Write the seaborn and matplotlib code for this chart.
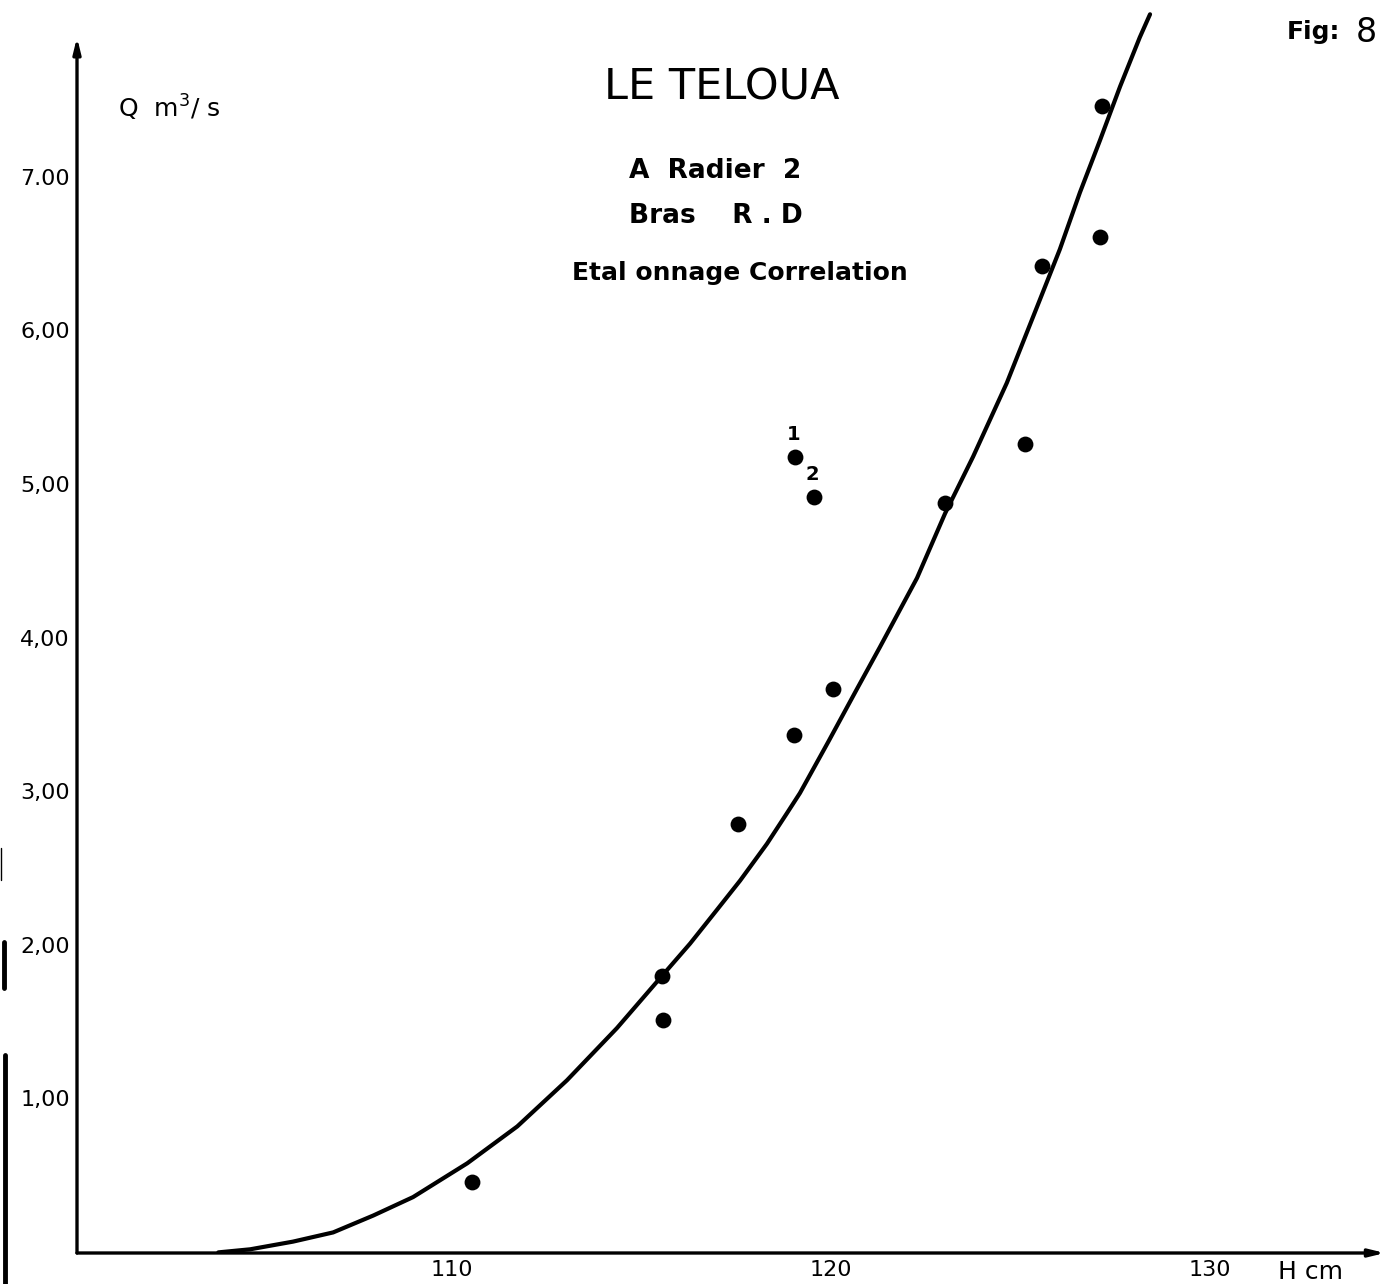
import matplotlib
matplotlib.use("Agg")
import matplotlib.pyplot as plt
from matplotlib.lines import Line2D
import seaborn as sns
import pandas as pd

# ---- data ----
obs_h = [110.53, 115.54, 115.57, 117.55, 119.02, 120.05, 119.05, 119.55,
         123.01, 125.12, 125.57, 127.10, 127.15]
obs_q = [0.51, 1.85, 1.56, 2.84, 3.42, 3.72, 5.23, 4.97,
         4.93, 5.31, 6.47, 6.66, 7.51]
obs_label = ["", "", "", "", "", "", "1", "2", "", "", "", "", ""]

curve_h = [103.83, 104.67, 105.80, 106.86, 107.92, 108.97, 110.40, 111.72,
           113.03, 114.35, 115.54, 116.28, 116.99, 117.60, 118.31, 118.84,
           119.18, 119.92, 120.69, 121.29, 122.27, 123.01, 123.75, 124.64,
           125.51, 126.04, 126.57, 127.10, 127.63, 128.15, 128.42]
curve_q = [0.05, 0.07, 0.12, 0.18, 0.29, 0.41, 0.63, 0.87,
           1.17, 1.51, 1.85, 2.06, 2.28, 2.47, 2.71, 2.91,
           3.04, 3.37, 3.72, 3.99, 4.44, 4.86, 5.23, 5.71,
           6.25, 6.58, 6.95, 7.29, 7.64, 7.96, 8.11]

x_ticks = [110, 120, 130]
x_tick_labels = ["110", "120", "130"]
y_ticks = [1, 2, 3, 4, 5, 6, 7]
y_tick_labels = ["1,00", "2,00", "3,00", "4,00", "5,00", "6,00", "7.00"]

title = "LE TELOUA"
sub1 = "A  Radier  2"
sub2 = "Bras    R . D"
sub3 = "Etal onnage Correlation"

# ---- figure ----
sns.set_style("white")
plt.rcParams["font.family"] = ["DejaVu Sans"]
plt.rcParams["text.color"] = "black"

W, H = 1391, 1284
fig = plt.figure(figsize=(W / 100, H / 100), dpi=100)
ax_left, ax_right, ax_bottom, ax_top = 77, 1391, 1253, 0
ax = fig.add_axes([ax_left / W, 1 - ax_bottom / H,
                   (ax_right - ax_left) / W, (ax_bottom - ax_top) / H])

xmin, xmax = 100.1, 134.78
ymin, ymax = 0.046, 8.203
ax.set_xlim(xmin, xmax)
ax.set_ylim(ymin, ymax)

curve_df = pd.DataFrame({"H": curve_h, "Q": curve_q})
obs_df = pd.DataFrame({"H": obs_h, "Q": obs_q, "lab": obs_label})

sns.lineplot(data=curve_df, x="H", y="Q", ax=ax, color="black", lw=3.0,
             sort=False, estimator=None)
ax.lines[-1].set_solid_joinstyle("round")
ax.lines[-1].set_solid_capstyle("round")
sns.scatterplot(data=obs_df, x="H", y="Q", ax=ax, color="black", s=130,
                edgecolor="black", linewidth=0, zorder=5)
for h, q, lab in zip(obs_h, obs_q, obs_label):
    if lab:
        ax.annotate(lab, (h, q), xytext=(-1, 9), textcoords="offset points",
                    ha="center", va="bottom", fontsize=14, fontweight="bold")

for s in ax.spines.values():
    s.set_visible(False)

# axes with arrows
ax.annotate("", xy=(xmin, 7.96), xytext=(xmin, ymin),
            arrowprops=dict(arrowstyle="-|>,head_length=0.9,head_width=0.22",
                            lw=2.4, color="black", shrinkA=0, shrinkB=0),
            annotation_clip=False)
ax.annotate("", xy=(134.62, ymin), xytext=(xmin, ymin),
            arrowprops=dict(arrowstyle="-|>,head_length=0.9,head_width=0.22",
                            lw=2.4, color="black", shrinkA=0, shrinkB=0),
            annotation_clip=False)

ax.set_xticks(x_ticks)
ax.set_xticklabels(x_tick_labels)
ax.set_yticks(y_ticks)
ax.set_yticklabels(y_tick_labels)
ax.tick_params(axis="x", direction="in", length=14, width=2.0, pad=5,
               labelsize=16, colors="black")
ax.tick_params(axis="y", direction="in", length=14, width=2.0, pad=5,
               labelsize=16, colors="black")
for lab in ax.get_yticklabels():
    lab.set_verticalalignment("baseline")
ax.set_xlabel("")
ax.set_ylabel("")
ax.grid(False)

# texts
fig.text(118 / W, 1 - 108 / H, "Q  m$^{3}$/ s", fontsize=18, ha="left", va="center")
fig.text(722 / W, 1 - 88 / H, title, fontsize=31, ha="center", va="center")
fig.text(715 / W, 1 - 171 / H, sub1, fontsize=19, ha="center", va="center",
         fontweight="bold")
fig.text(716 / W, 1 - 216 / H, sub2, fontsize=19, ha="center", va="center",
         fontweight="bold")
fig.text(740 / W, 1 - 273 / H, sub3, fontsize=18, ha="center", va="center",
         fontweight="bold")
fig.text(1340 / W, 1 - 32 / H, "Fig:", fontsize=18, ha="right", va="center",
         fontweight="bold")
fig.text(1356 / W, 1 - 32 / H, "8", fontsize=24, ha="left", va="center")
fig.text(1310 / W, 1 - 1272 / H, "H cm", fontsize=18, ha="center", va="center")

# scan edge marks
fig.add_artist(Line2D([4 / W, 4 / W], [1 - 942 / H, 1 - 988 / H],
                      transform=fig.transFigure, color="black", lw=3.5))
fig.add_artist(Line2D([5 / W, 5 / W], [1 - 1055 / H, 0],
                      transform=fig.transFigure, color="black", lw=3.5))
fig.add_artist(Line2D([1 / W, 1 / W], [1 - 848 / H, 1 - 880 / H],
                      transform=fig.transFigure, color="black", lw=1))

fig.savefig("out.png", dpi=100, facecolor="white")
